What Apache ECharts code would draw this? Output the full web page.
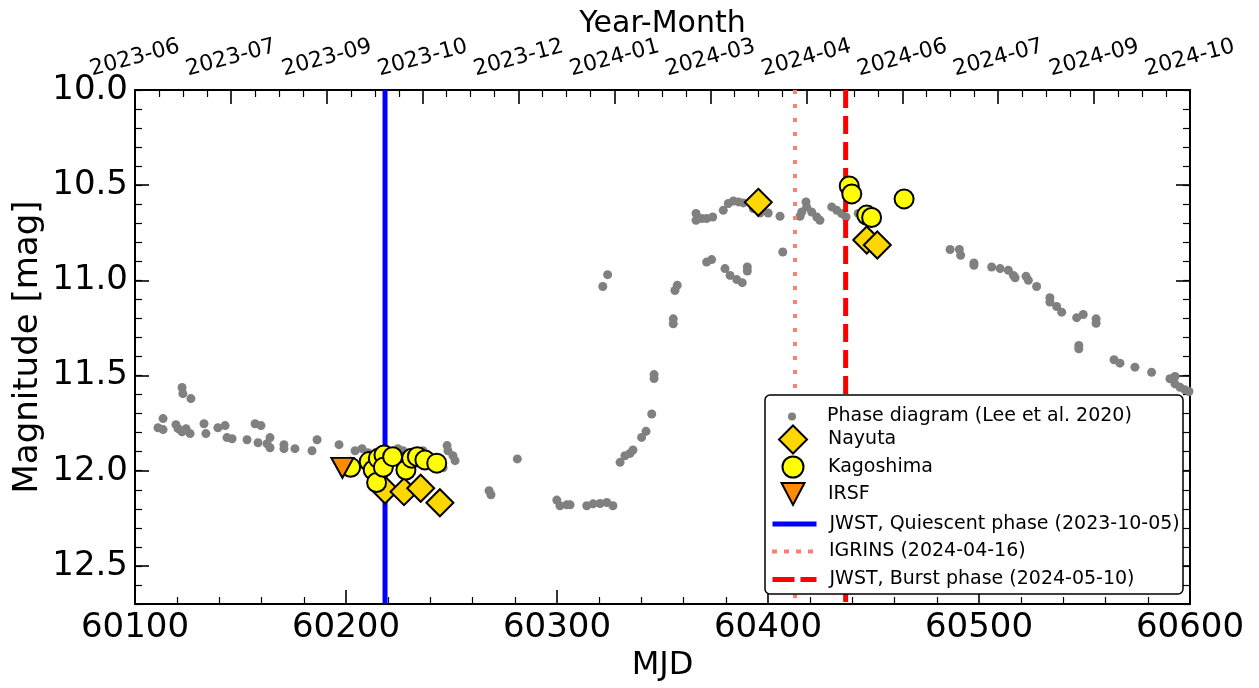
<!DOCTYPE html>
<html><head><meta charset="utf-8">
<script src="https://cdn.jsdelivr.net/npm/echarts@6/dist/echarts.min.js"></script>
<style>html,body{margin:0;padding:0;background:#fff}#c{width:1259px;height:688px}</style>
</head><body><div id="c"></div>
<script>
// ---- data ----
const phaseMJD = [60110.9,60113.3,60113.3,60119.4,60120.4,60122.3,60124.2,60126.1,60122.3,60122.7,60126.5,60132.7,60133.6,60139.3,60142.7,60143.6,60146.0,60153.1,60156.9,60159.7,60158.3,60162.6,60164.0,60164.0,60170.6,60170.6,60175.8,60183.9,60186.3,60196.7,60204.3,60207.6,60210.4,60224.6,60227.0,60236.5,60247.9,60248.3,60250.7,60251.7,60246.0,
60267.8,60268.7,60281.2,60299.9,60301.4,60304.6,60306.2,60314.1,60317.1,60320.4,60323.6,60326.5,60329.9,60332.2,60334.6,60336.0,60340.1,60342.2,60344.9,60346.0,60346.0,60321.7,60324.0,60355.1,60355.1,60355.9,60357.0,
60365.9,60365.9,60368.6,60370.9,60373.8,60378.8,60381.2,60383.6,60386.0,60388.3,60370.9,60373.3,60379.6,60382.0,60385.2,60387.8,60390.2,60390.2,60393.0,60396.2,60400.1,60405.7,60407.0,60415.2,60416.0,60418.0,60418.3,60420.7,60423.1,60424.6,60430.2,60432.6,60434.9,60437.0,60442.8,
60486.3,60490.7,60491.3,60497.6,60497.6,60506.0,60510.0,60513.9,60516.3,60517.1,60522.3,60523.4,60527.3,60533.6,60533.6,60536.8,60539.2,60546.3,60549.4,60555.5,60555.5,60547.3,60547.3,60564.0,60566.8,60573.9,60581.8,60590.5,60592.9,60592.9,60595.3,60597.6,60599.5];
const phaseMag = [11.774,11.726,11.784,11.758,11.779,11.795,11.779,11.805,11.563,11.595,11.621,11.753,11.805,11.774,11.763,11.826,11.832,11.837,11.753,11.763,11.853,11.858,11.826,11.879,11.863,11.884,11.884,11.895,11.837,11.863,11.895,11.884,11.905,11.884,11.895,11.895,11.868,11.895,11.921,11.947,11.984,
12.105,12.126,11.938,12.154,12.184,12.179,12.179,12.184,12.174,12.172,12.167,12.184,11.956,11.921,11.909,11.891,11.825,11.793,11.702,11.495,11.516,11.032,10.970,11.202,11.228,11.053,11.026,
10.649,10.684,10.675,10.675,10.667,10.632,10.596,10.583,10.588,10.593,10.904,10.891,10.938,10.974,10.996,11.012,10.930,10.951,10.623,10.646,10.646,10.663,10.851,10.663,10.641,10.588,10.614,10.641,10.667,10.684,10.614,10.632,10.649,10.667,10.649,
10.838,10.838,10.868,10.909,10.921,10.930,10.938,10.947,10.974,10.986,10.979,11.000,11.032,11.091,11.114,11.137,11.167,11.196,11.179,11.202,11.225,11.342,11.359,11.417,11.435,11.456,11.483,11.517,11.505,11.544,11.562,11.575,11.584];

const nayutaMJD = [60218.5,60227.5,60235.4,60244.5,60395.4,60446.8,60451.8];
const nayutaMag = [12.101,12.110,12.092,12.168,10.590,10.788,10.814];

const kagoMJD = [60202.2,60211.0,60212.9,60214.5,60215.3,60218.0,60217.7,60222.1,60228.4,60231.1,60233.8,60237.4,60243.0,60438.5,60439.7,60446.8,60449.1,60464.5];
const kagoMag = [11.982,11.952,11.996,12.062,11.935,11.917,11.982,11.926,11.996,11.934,11.926,11.943,11.960,10.504,10.546,10.657,10.670,10.572];

const irsfMJD = [60198.3];
const irsfMag = [11.985];

const jwstQuiescentMJD = 60218.5;
const igrinsMJD = 60412.8;
const jwstBurstMJD = 60436.8;

const topTickLabels = ['2023-06','2023-07','2023-09','2023-10','2023-12','2024-01','2024-03','2024-04','2024-06','2024-07','2024-09','2024-10'];

const names = {
  phase: 'Phase diagram (Lee et al. 2020)',
  nayuta: 'Nayuta', kago: 'Kagoshima', irsf: 'IRSF',
  jq: 'JWST, Quiescent phase (2023-10-05)',
  ig: 'IGRINS (2024-04-16)',
  jb: 'JWST, Burst phase (2024-05-10)'
};

const yMin = 10, yMax = 12.7;
const zip = (a, b) => a.map((v, i) => [v, b[i]]);
const vline = x => [[x, yMin], [x, yMax]];

// ---- chart ----
const FF = 'DejaVu Sans';
const black = '#000';
const chart = echarts.init(document.getElementById('c'), null, {renderer: 'canvas'});

const axisLineStyle = {show: true, lineStyle: {color: black, width: 2}};
const majorTick = {show: true, inside: true, length: 14, lineStyle: {color: black, width: 1.6}};
const minorTickOnly = {show: true, inside: true, length: 7, lineStyle: {color: black, width: 1.2}};

function yAx(pos, interval, isMajor, extra) {
  return Object.assign({
    type: 'value', position: pos, inverse: true, min: yMin, max: yMax, interval: interval,
    axisLine: isMajor ? axisLineStyle : {show: false},
    axisTick: isMajor ? majorTick : minorTickOnly,
    axisLabel: {show: false},
    splitLine: {show: false}
  }, extra || {});
}

const ICON_CX = 792, TEXT_X = 827;
function legendRow(name, centerY, w, h, extra) {
  return Object.assign({
    show: true, orient: 'vertical', left: ICON_CX - w / 2, top: centerY - h / 2,
    padding: 0, itemGap: 0, itemWidth: w, itemHeight: h,
    data: [name], selectedMode: false, z: 20,
    textStyle: {fontSize: 19, color: black, fontFamily: FF, padding: [0, 0, 0, Math.max(0, TEXT_X - (ICON_CX + w / 2) - 5)]}
  }, extra || {});
}
const hiddenSym = {color: 'rgba(0,0,0,0)', borderColor: 'rgba(0,0,0,0)', borderWidth: 0};

const option = {
  animation: false,
  backgroundColor: '#fff',
  grid: {left: 135, right: 69, top: 90, bottom: 84, containLabel: false, outerBoundsMode: 'none'},
  xAxis: [
    {
      type: 'value', position: 'bottom', min: 60100, max: 60600, interval: 100,
      axisLine: axisLineStyle, axisTick: majorTick,
      minorTick: {show: true, splitNumber: 5, length: 7, lineStyle: {color: black, width: 1.2}},
      splitLine: {show: false}, minorSplitLine: {show: false},
      axisLabel: {fontSize: 34, color: black, fontFamily: FF, margin: 7, formatter: v => String(v)},
      name: 'MJD', nameLocation: 'middle', nameGap: 46,
      nameTextStyle: {fontSize: 32, color: black, fontFamily: FF}
    },
    {
      type: 'value', position: 'top', min: 0, max: topTickLabels.length - 1, interval: 1,
      axisLine: axisLineStyle, axisTick: majorTick,
      minorTick: {show: true, splitNumber: 4, length: 7, lineStyle: {color: black, width: 1.2}},
      splitLine: {show: false},
      axisLabel: {
        fontSize: 22, color: black, fontFamily: FF, rotate: -15, align: 'center', verticalAlign: 'middle', margin: 32,
        formatter: v => topTickLabels[Math.round(v)] || ''
      },
      name: 'Year-Month', nameLocation: 'middle', nameGap: 51, nameMoveOverlap: false,
      nameTextStyle: {fontSize: 30, color: black, fontFamily: FF}
    }
  ],
  yAxis: [
    yAx('left', 0.5, true, {
      axisLabel: {
        show: true, fontSize: 34, color: black, fontFamily: FF, margin: 7,
        formatter: v => (Math.abs(v * 2 - Math.round(v * 2)) < 1e-6 ? v.toFixed(1) : '')
      },
      name: 'Magnitude [mag]', nameLocation: 'middle', nameGap: 90, nameRotate: 90, nameMoveOverlap: false,
      nameTextStyle: {fontSize: 34, color: black, fontFamily: FF}
    }),
    yAx('left', 0.1, false),
    yAx('right', 0.5, true),
    yAx('right', 0.1, false)
  ],
  graphic: [{
    type: 'rect', z: 15,
    shape: {x: 765, y: 395, width: 418, height: 199, r: 5},
    style: {fill: '#fff', stroke: black, lineWidth: 1.5}
  }],
  legend: [
    legendRow(names.phase, 411, 8, 8),
    legendRow(names.nayuta, 438.5, 28, 28),
    legendRow(names.kago, 466, 21, 21),
    legendRow(names.irsf, 493.5, 23, 23, {data: [{name: names.irsf, icon: 'path://M0,0L22,0L11,21Z'}]}),
    legendRow(names.jq, 521.5, 44, 14, {itemStyle: hiddenSym, lineStyle: {color: '#0000ff', width: 5, type: 'solid'}}),
    legendRow(names.ig, 549, 44, 14, {itemStyle: hiddenSym, lineStyle: {color: '#fa8072', width: 4, type: [5, 7]}}),
    legendRow(names.jb, 577, 44, 14, {itemStyle: hiddenSym, lineStyle: {color: '#ff0000', width: 5, type: [22, 6]}})
  ],
  series: [
    {
      name: names.phase, type: 'scatter', z: 2, symbol: 'circle', symbolSize: 9,
      itemStyle: {color: '#808080', opacity: 1},
      data: zip(phaseMJD, phaseMag)
    },
    {
      name: names.jq, type: 'line', z: 3, symbol: 'none', showSymbol: false,
      lineStyle: {color: '#0000ff', width: 5, type: 'solid'},
      data: vline(jwstQuiescentMJD)
    },
    {
      name: names.ig, type: 'line', z: 3, symbol: 'none', showSymbol: false,
      lineStyle: {color: '#fa8072', width: 4, type: [4, 10]},
      data: vline(igrinsMJD)
    },
    {
      name: names.jb, type: 'line', z: 3, symbol: 'none', showSymbol: false,
      lineStyle: {color: '#ff0000', width: 5, type: [18, 8]},
      data: vline(jwstBurstMJD)
    },
    {
      name: names.nayuta, type: 'scatter', z: 4, symbol: 'diamond', symbolSize: 27,
      itemStyle: {color: '#ffd700', borderColor: black, borderWidth: 2, opacity: 1},
      data: zip(nayutaMJD, nayutaMag)
    },
    {
      name: names.kago, type: 'scatter', z: 5, symbol: 'circle', symbolSize: 19,
      itemStyle: {color: '#ffff00', borderColor: black, borderWidth: 2, opacity: 1},
      data: zip(kagoMJD, kagoMag)
    },
    {
      name: names.irsf, type: 'scatter', z: 6, symbol: 'triangle', symbolRotate: 180, symbolSize: [22, 20],
      itemStyle: {color: '#ff8c00', borderColor: black, borderWidth: 2, opacity: 1},
      data: zip(irsfMJD, irsfMag)
    }
  ]
};
chart.setOption(option);
</script>
</body></html>
